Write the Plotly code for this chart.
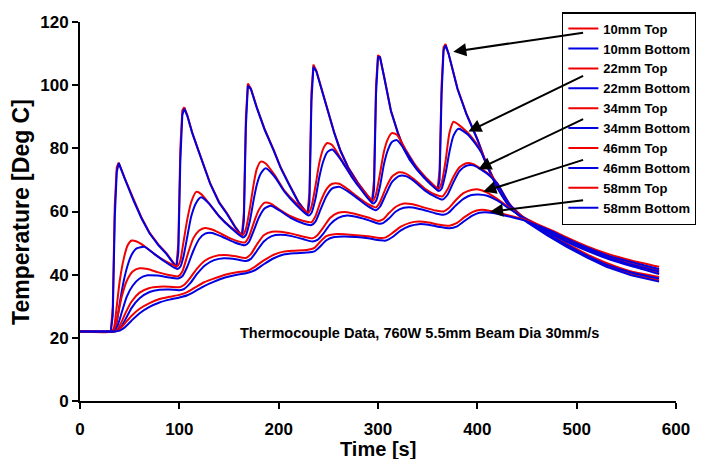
import plotly.graph_objects as go

# ---------------- data ----------------
RED = "#f00000"
BLUE = "#0000e0"

# 10 mm
t10 = [0, 31, 33, 35, 37, 39, 45, 54, 62, 70, 79, 87, 97,
       99, 101, 103, 105, 108, 113, 119, 125, 131, 140, 148, 156, 163,
       165, 167, 169, 172, 178, 186, 195, 202, 210, 220, 229,
       231, 233, 235, 238, 244, 250, 256, 262, 270, 280, 287, 294,
       296, 298, 300, 302, 306, 313, 320, 326, 332, 339, 346, 353, 360,
       362, 364, 366, 368, 371, 380, 389, 400, 409, 420, 433, 450, 470, 490, 510, 530, 555, 583]
top10 = [22, 22, 30, 62, 74, 75.5, 70.5, 63.6, 58, 53.3, 49.5, 46.8, 42.5,
         50, 80, 92, 93, 90.5, 85, 79.5, 74, 69, 63, 59.4, 55.3, 52.3,
         60, 90, 100.5, 99, 93, 86, 79.5, 74, 69, 63, 59.3,
         66, 98, 106.5, 104.5, 98, 91, 85, 79.5, 74, 69, 66, 63.2,
         70, 100, 109.5, 109, 103, 92, 85, 80, 76.5, 73.5, 71, 68.8, 67,
         73, 100, 112, 113, 110, 99, 91, 83, 75.3, 68, 61.5, 57, 53, 49.3, 46, 43, 40.3, 38.2]
bot10 = [22, 22, 27, 58, 72.5, 75.3, 70.5, 63.4, 57.8, 53.1, 49.3, 46.6, 42.3,
         47, 76, 90.5, 92.6, 90.3, 84.8, 79.3, 73.8, 68.8, 62.8, 59.2, 55.1, 52.1,
         57, 87, 99.8, 98.8, 92.8, 85.8, 79.3, 73.8, 68.8, 62.8, 59.1,
         63, 95, 105.8, 104.3, 97.8, 90.8, 84.8, 79.3, 73.8, 68.8, 65.8, 63,
         67, 97, 108.8, 108.8, 102.8, 91.8, 84.8, 79.8, 76.3, 73.3, 70.8, 68.6, 66.8,
         70, 97, 111, 112.6, 110, 98.8, 90.8, 82.8, 75, 67.6, 61.2, 56.6, 52.5, 48.8, 45.5, 42.5, 39.8, 37.8]

# 22 mm
t22 = [0, 31, 34, 37, 40, 44, 48, 52, 57, 65,
       75, 86, 98, 101, 104, 108, 112, 117, 122, 130,
       140, 152, 164, 167, 171, 175, 178, 182, 187, 196,
       206, 218, 230, 233, 237, 241, 245, 249, 254, 263,
       273, 284, 295, 298, 302, 306, 310, 314, 319, 328,
       338, 349, 361, 364, 368, 372, 376, 381, 390, 398,
       404, 410, 420, 433, 450, 470, 490, 510, 530, 555, 583]
top22 = [22, 22, 23, 30, 38, 45, 49.3, 50.8, 50.5, 49,
         46.5, 44.3, 42.7, 44.5, 50, 57.5, 63, 66.2, 65.5, 62.5,
         58.5, 55, 52.6, 54.5, 61, 69, 73.5, 75.8, 75.2, 71.5,
         66.5, 62.5, 59.6, 61.5, 68, 75.5, 80, 81.7, 81, 76.5,
         71.5, 67, 63.4, 65.5, 72, 79, 83, 84.8, 84.3, 79.5,
         74.5, 70.5, 67.2, 69, 76, 85, 88.4, 87.5, 85, 82,
         79, 74.5, 67.8, 61.5, 57, 53.3, 49.8, 46.5, 43.7, 41, 39.3]
bot22 = [22, 22, 22.3, 25, 31, 38, 43, 46.3, 48.3, 48.8,
         46.5, 44, 41.8, 42.5, 45.5, 52, 58.5, 62.8, 64.5, 62.5,
         58.5, 54.8, 51.8, 52.5, 57, 64, 68.5, 72, 73.7, 71,
         66.2, 62, 58.7, 59.5, 64, 71, 76, 78.8, 79.6, 76.2,
         71.2, 66.5, 62.5, 63.3, 68, 75, 79.5, 82, 82.6, 79,
         74, 70, 66.5, 67.2, 72, 79, 84, 86.2, 84.5, 81.5,
         78.7, 74.3, 67.6, 61.3, 56.8, 53, 49.4, 46, 43.2, 40.7, 38.8]

# 34 mm
t34 = [0, 32, 35, 38, 42, 47, 53, 60, 68, 78,
       88, 99, 103, 108, 114, 120, 126, 133, 143, 155,
       166, 170, 175, 180, 186, 192, 200, 212, 225, 233,
       237, 242, 248, 254, 261, 269, 280, 290, 298, 302,
       308, 314, 321, 328, 336, 347, 358, 365, 370, 376,
       382, 389, 396, 405, 413, 420, 433, 450, 470, 490,
       510, 530, 555, 583]
top34 = [22, 22, 23, 27, 33, 38, 41, 42, 41.8, 40.8,
         40, 39.5, 41, 46, 51.5, 54, 54.8, 54.3, 52.8, 51,
         50.2, 52, 56.5, 60.5, 62.8, 62.5, 60.8, 58.5, 57, 56.6,
         58.5, 63, 67, 68.8, 68.8, 67.2, 64.5, 62.3, 61.3, 63,
         67.5, 71, 72.4, 72, 70.3, 67.3, 65.3, 64.8, 67, 71,
         74, 75.3, 75, 73.3, 71.5, 69, 62.2, 57.3, 54, 50.8,
         48, 45.5, 43, 40.5]
bot34 = [22, 22, 22.3, 24, 28, 33, 36.5, 38.8, 39.8, 39.7,
         39.2, 38.8, 39.5, 42.5, 47.5, 51.3, 53, 53.2, 52, 50.3,
         49.3, 50.3, 54, 58, 61, 61.8, 60.5, 58, 56.2, 55.7,
         56.8, 60.5, 64.8, 67.3, 67.8, 66.5, 64, 61.6, 60.4, 61.5,
         65.5, 69.3, 71.2, 71.2, 69.7, 66.7, 64.6, 63.8, 65.3, 69.3,
         72.8, 74.5, 74.6, 73, 71.2, 68.8, 62, 57, 53.6, 50.4,
         47.6, 45.2, 42.7, 40.2]

# 46 mm
t46 = [0, 33, 37, 41, 46, 52, 60, 70, 80, 90,
       100, 105, 111, 118, 126, 135, 145, 157, 167, 172,
       178, 185, 193, 202, 213, 225, 234, 239, 245, 252,
       260, 269, 280, 291, 300, 305, 311, 318, 326, 335,
       346, 358, 366, 371, 378, 386, 394, 401, 410, 420,
       433, 445, 460, 475, 490, 510, 530, 555, 583]
top46 = [22, 22, 22.5, 24.5, 28, 31.5, 34.3, 35.8, 36.2, 36.2,
         36, 36.8, 39, 42, 44.5, 45.8, 46.2, 45.8, 45.3, 46.5,
         49.5, 52.5, 53.6, 53.6, 53, 52, 51.5, 52.5, 55, 58,
         59.6, 59.8, 59, 58, 57, 57.5, 59.5, 61.5, 62.5, 62.3,
         61.3, 60.3, 60, 61, 63.5, 65.8, 66.8, 67, 66, 64,
         61, 58.5, 56, 53.5, 51, 48.5, 46, 43.5, 41.3]
bot46 = [22, 22, 22.2, 23.3, 26, 29.5, 32.5, 34.5, 35.2, 35.3,
         35.1, 35.5, 37.3, 40.3, 43, 44.6, 45.2, 44.9, 44.3, 45,
         47.5, 50.5, 52.2, 52.6, 52.2, 51.2, 50.5, 51, 53, 56,
         58, 58.7, 58.2, 57.2, 56.2, 56.3, 57.8, 60, 61.2, 61.3,
         60.5, 59.4, 59, 59.6, 61.8, 64, 65.2, 65.4, 65, 63.5,
         60.7, 58.3, 55.7, 53.2, 50.7, 48.2, 45.6, 43.2, 41]

# 58 mm
t58 = [0, 35, 40, 45, 52, 60, 70, 80, 90, 100,
       108, 116, 125, 135, 146, 158, 168, 176, 185, 195,
       205, 216, 228, 236, 242, 248, 256, 266, 278, 290,
       302, 308, 315, 323, 332, 341, 351, 362, 372, 379,
       387, 395, 402, 408, 416, 425, 435, 447, 460, 475,
       490, 510, 530, 555, 583]
top58 = [22, 22, 22.8, 24.5, 27, 29.2, 31, 32.3, 33, 33.6,
         34.5, 36, 37.6, 38.8, 40, 40.8, 41.2, 42.5, 44.5, 46.3,
         47.3, 47.6, 47.8, 48.5, 50.5, 52.2, 52.8, 52.8, 52.5, 52.2,
         51.6, 51.8, 53.3, 55.2, 56.4, 56.8, 56.5, 55.8, 55.5, 56.3,
         58.2, 59.8, 60.5, 60.5, 60, 59.3, 58.5, 57.5, 56, 54,
         51.8, 49, 46.7, 44.5, 42.5]
bot58 = [22, 22, 22.3, 23.3, 25.5, 27.8, 29.8, 31.2, 32.1, 32.8,
         33.5, 34.8, 36.4, 37.8, 39.1, 40, 40.5, 41.4, 43.3, 45.2,
         46.4, 46.8, 47, 47.4, 49, 50.9, 51.9, 52.1, 51.9, 51.5,
         50.9, 50.8, 52, 54, 55.4, 56, 55.8, 55.1, 54.7, 55.2,
         57, 58.7, 59.6, 59.8, 59.5, 58.9, 58.2, 57.2, 55.7, 53.7,
         51.4, 48.6, 46.2, 44, 41.8]

depths = ["10mm", "22mm", "34mm", "46mm", "58mm"]
times = [t10, t22, t34, t46, t58]
tops = [top10, top22, top34, top46, top58]
bottoms = [bot10, bot22, bot34, bot46, bot58]

# arrow heads (data coords) and arrow tails (data coords, at the legend)
arrow_head_t = [375.8, 391, 401, 406, 412.8]
arrow_head_T = [110.6, 85.3, 73.4, 66.3, 59.9]
arrow_tail_t = [508, 508, 508, 508, 508]
arrow_tail_T = [116.7, 103.2, 89.5, 76.5, 63.6]

xticks = [0, 100, 200, 300, 400, 500, 600]
yticks = [0, 20, 40, 60, 80, 100, 120]

FONT = "Liberation Sans, Arial, sans-serif"

# ---------------- figure ----------------
fig = go.Figure()
for name, t, top, bot in zip(depths, times, tops, bottoms):
    shape = "linear" if name == "10mm" else "spline"
    fig.add_trace(go.Scatter(x=t, y=top, mode="lines", name=f"{name} Top",
                             line=dict(color=RED, width=2, shape=shape, smoothing=0.6)))
    fig.add_trace(go.Scatter(x=t, y=bot, mode="lines", name=f"{name} Bottom",
                             line=dict(color=BLUE, width=2, shape=shape, smoothing=0.6)))

for hx, hy, tx, ty in zip(arrow_head_t, arrow_head_T, arrow_tail_t, arrow_tail_T):
    fig.add_annotation(x=hx, y=hy, ax=tx, ay=ty, xref="x", yref="y", axref="x", ayref="y",
                       text="", showarrow=True, arrowhead=2, arrowsize=1.3,
                       arrowwidth=2, arrowcolor="black", standoff=0)

fig.add_annotation(x=341.8, y=21.5, xref="x", yref="y", showarrow=False,
                   text="Thermocouple Data, 760W 5.5mm Beam Dia 30mm/s",
                   font=dict(family=FONT, size=14.5, color="black", weight="bold"))

# axis titles placed as paper annotations
fig.add_annotation(x=0.5, y=-0.126, xref="paper", yref="paper", showarrow=False,
                   text="Time [s]", yanchor="middle",
                   font=dict(family=FONT, size=20, color="black", weight="bold"))
fig.add_annotation(x=-0.10, y=0.5, xref="paper", yref="paper", showarrow=False,
                   text="Temperature [Deg C]", textangle=-90, xanchor="center", yanchor="middle",
                   font=dict(family=FONT, size=23, color="black", weight="bold"))

axis_common = dict(showline=True, linecolor="black", linewidth=2, ticks="outside",
                   ticklen=6, tickwidth=2, tickcolor="black", showgrid=False,
                   zeroline=False, mirror=False, automargin=False)

# the page adds an 8 px body margin, so the figure is sized and offset for it
fig.update_layout(
    width=696, height=451,
    margin=dict(l=72, r=28, t=14, b=58, autoexpand=False),
    paper_bgcolor="white", plot_bgcolor="white",
    font=dict(family=FONT, color="black", weight="bold"),
    xaxis=dict(range=[0, 600], tickvals=xticks, ticktext=[str(v) for v in xticks],
               tickfont=dict(size=17, weight="bold"), ticklabelstandoff=6,
               **axis_common),
    yaxis=dict(range=[0, 120], tickvals=yticks, ticktext=[str(v) for v in yticks],
               tickfont=dict(size=17, weight="bold"), ticklabelstandoff=0,
               **axis_common),
    legend=dict(x=1.035, xanchor="right", y=1.026, yanchor="top",
                bordercolor="black", borderwidth=1.5, bgcolor="white",
                font=dict(family=FONT, size=13, weight="bold"), tracegroupgap=0),
    showlegend=True,
)

fig.write_html("out.html")
